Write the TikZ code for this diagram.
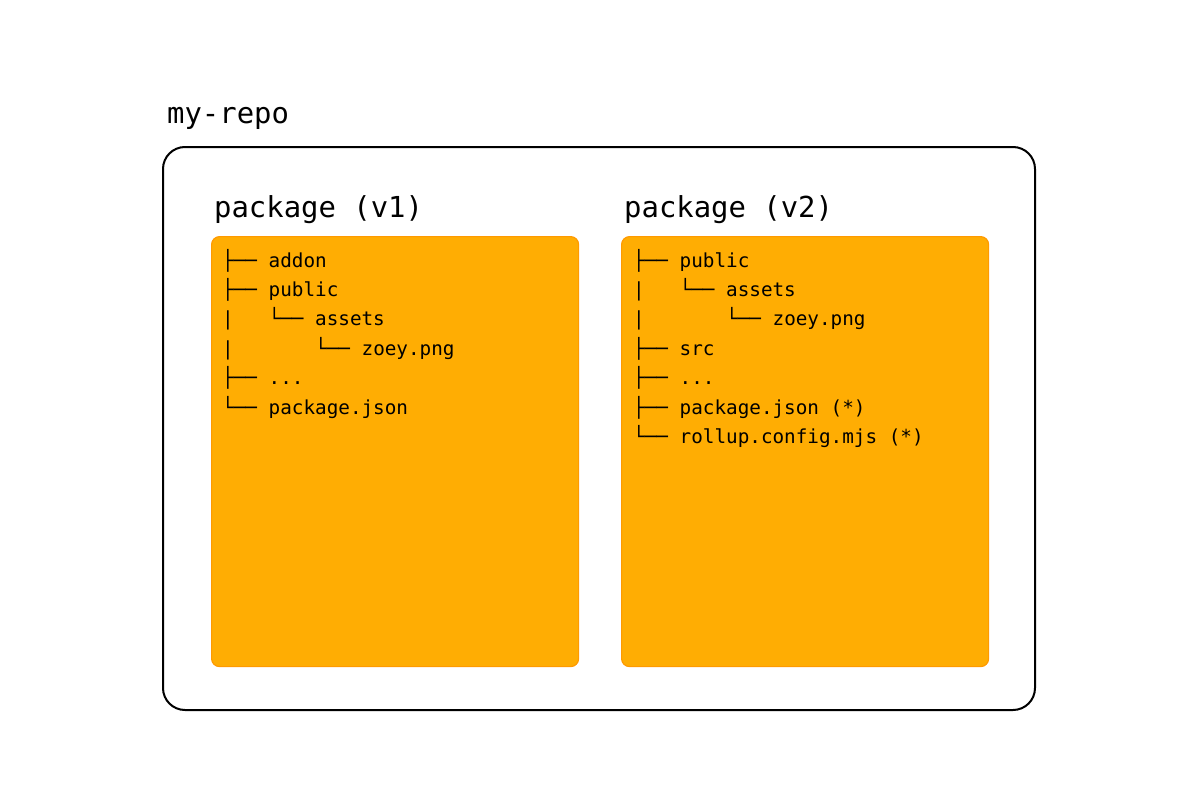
\documentclass[tikz,border=0pt]{standalone}
\usepackage{fontspec}
\newfontfamily\monof{DejaVu Sans Mono}
\definecolor{boxfill}{HTML}{FFAD03}
\definecolor{boxline}{HTML}{FF9A00}
\begin{document}
\begin{tikzpicture}[x=1pt,y=-1pt,
  title/.style={anchor=base west,inner sep=0pt,font=\monof\fontsize{28.9}{32}\selectfont},
  treeline/.style={anchor=base west,inner sep=0pt,font=\monof\fontsize{19.3}{24}\selectfont},
  pkgbox/.style={draw=boxline,fill=boxfill,line width=1.2pt,rounded corners=8pt},
  repobox/.style={draw=black,line width=2pt,rounded corners=22pt}]
\useasboundingbox (0,0) rectangle (1200,800);
\fill[white] (0,0) rectangle (1200,800);
\node[title] (repo) at (167,123) {my-repo};
\draw[repobox] (163,147) rectangle (1035,710);
\node[pkgbox,minimum width=367pt,minimum height=430pt,anchor=north west] (p1) at (211,236) {};
\node[pkgbox,minimum width=367pt,minimum height=430pt,anchor=north west] (p2) at (621,236) {};
\node[title] (t1) at (214,217) {package (v1)};
\node[title] (t2) at (624,217) {package (v2)};
% v1 tree
\node[treeline] (a1) at (222,267) {├──~addon};
\node[treeline] (a2) at (222,296.4) {├──~public};
\node[treeline] (a3) at (222,325.8) {|~~~└──~assets};
\node[treeline] (a4) at (222,355.2) {|~~~~~~~└──~zoey.png};
\node[treeline] (a5) at (222,384.6) {├──~...};
\node[treeline] (a6) at (222,414) {└──~package.json};
% v2 tree
\node[treeline] (b1) at (633,267) {├──~public};
\node[treeline] (b2) at (633,296.4) {|~~~└──~assets};
\node[treeline] (b3) at (633,325.8) {|~~~~~~~└──~zoey.png};
\node[treeline] (b4) at (633,355.2) {├──~src};
\node[treeline] (b5) at (633,384.6) {├──~...};
\node[treeline] (b6) at (633,414) {├──~package.json~(*)};
\node[treeline] (b7) at (633,443.4) {└──~rollup.config.mjs~(*)};
\end{tikzpicture}
\end{document}
